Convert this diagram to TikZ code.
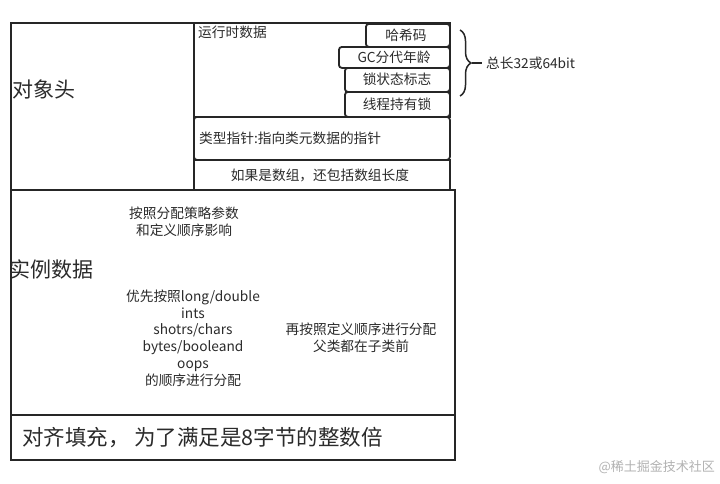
\documentclass[tikz,border=0pt]{standalone}
\usepackage{fontspec}
\setmainfont{Noto Sans CJK SC}
\usetikzlibrary{decorations.pathreplacing}
\definecolor{ln}{HTML}{262626}
\definecolor{tx}{HTML}{2b2b2b}
\tikzset{
  box/.style={draw=ln,line width=1.8pt,anchor=north west,inner sep=0pt},
  rbox/.style={box,rounded corners=3pt},
  small/.style={text=tx,font=\fontsize{13.7}{17}\selectfont,inner sep=0pt},
  big/.style={text=tx,font=\fontsize{21}{24}\selectfont,inner sep=0pt}
}
\begin{document}
\begin{tikzpicture}[x=1pt,y=-1pt]
\useasboundingbox (0,0) rectangle (720,483);
\fill[white] (0,0) rectangle (720,483);
% header
\node[box,minimum width=183pt,minimum height=167pt] (hdr) at (10,22) {};
\node[box,minimum width=256pt,minimum height=94pt] (rt) at (193,22) {};
\node[rbox,minimum width=84pt,minimum height=23pt] (hash) at (365,23) {};
\node[rbox,minimum width=111pt,minimum height=21pt] (gc) at (338,46) {};
\node[rbox,minimum width=105pt,minimum height=24pt] (lock) at (344,67) {};
\node[rbox,minimum width=105pt,minimum height=25pt] (thr) at (344,91) {};
\node[rbox,minimum width=256pt,minimum height=43pt] (ptr) at (193,116) {};
\node[box,minimum width=256pt,minimum height=30pt] (arr) at (193,159) {};
% instance + padding
\node[box,minimum width=444pt,minimum height=225pt] (inst) at (10,189) {};
\node[box,minimum width=444pt,minimum height=45pt] (pad) at (10,414) {};
% texts
\node[big,anchor=west] (thdr) at (12,89) {对象头};
\node[small,anchor=west] (trt) at (198,32) {运行时数据};
\node[small] (thash) at (406,35) {哈希码};
\node[small] (tgc) at (394,57) {GC分代年龄};
\node[small] (tlock) at (397,79) {锁状态标志};
\node[small] (tthr) at (397,104) {线程持有锁};
\node[small,anchor=west] (tptr) at (199,138) {类型指针:指向类元数据的指针};
\node[small] (tarr) at (320,175) {如果是数组，还包括数组长度};
\node[small,align=center] (tstrat) at (184,222) {按照分配策略参数\\和定义顺序影响};
\node[big,anchor=west] (tinst) at (9,269) {实例数据};
\node[small,align=center,font=\fontsize{13.7}{16.8}\selectfont] (tord) at (193,338) {优先按照long/double\\ints\\shotrs/chars\\bytes/booleand\\oops\\的顺序进行分配};
\node[small,align=center] (tdef) at (361,338) {再按照定义顺序进行分配\\父类都在子类前};
\node[big,anchor=west,font=\fontsize{21.5}{24}\selectfont] (tpad) at (22,438) {对齐填充， 为了满足是8字节的整数倍};
% brace
\draw[ln,line width=1.5pt,decoration={brace,amplitude=11pt}] (460,30) coordinate (b1) decorate {-- (460,96) coordinate (b2)};
\coordinate (btip) at (472,63);
\coordinate (bend) at (482,63);
\draw[ln,line width=1.5pt] (btip) -- (bend);
\node[small,anchor=west] (tlen) at (486,63.5) {总长32或64bit};
% watermark
\node[text=gray!60,font=\fontsize{13}{15}\selectfont,anchor=east,inner sep=0pt] (wm) at (715,467) {@稀土掘金技术社区};
\end{tikzpicture}
\end{document}
